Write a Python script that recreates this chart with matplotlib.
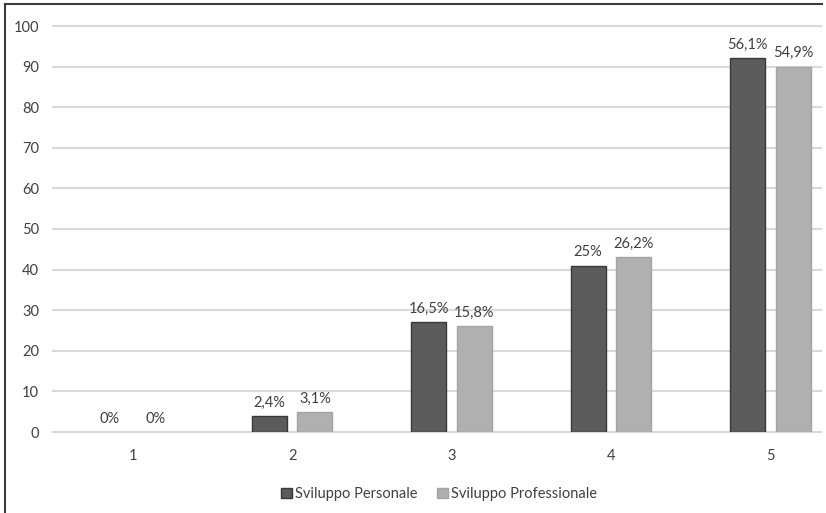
import matplotlib
matplotlib.use("Agg")
import matplotlib.pyplot as plt
from matplotlib.lines import Line2D
from matplotlib.patches import Rectangle, Patch

# Data
categories = ["1", "2", "3", "4", "5"]
personale_counts = [0, 4, 27, 41, 92]
professionale_counts = [0, 5, 26, 43, 90]
personale_pct = [0, 2.4, 16.5, 25, 56.1]
professionale_pct = [0, 3.1, 15.8, 26.2, 54.9]
yticks = [0, 10, 20, 30, 40, 50, 60, 70, 80, 90, 100]
series_names = ["Sviluppo Personale", "Sviluppo Professionale"]

plt.rcParams["font.family"] = ["Lato", "DejaVu Sans"]
FS = 10.5
TXT = "#404040"

W, H = 826, 513
fig = plt.figure(figsize=(W / 100, H / 100), dpi=100)
fig.patch.set_facecolor("white")

# plot area in pixels (extends past the right edge of the canvas)
left_px, right_px = 53, 850
y0_px, y100_px = 432, 26
ax = fig.add_axes([left_px / W, (H - y0_px) / H,
                   (right_px - left_px) / W, (y0_px - y100_px) / H])

dark = "#5b5b5b"
light = "#b0b0b0"
x = list(range(1, len(categories) + 1))
width = 0.22
off = 0.143

b1 = ax.bar([i - off for i in x], personale_counts, width, color=dark,
            edgecolor="#383838", linewidth=1.0, zorder=3)
b2 = ax.bar([i + off for i in x], professionale_counts, width, color=light,
            edgecolor="#a4a4a4", linewidth=1.0, zorder=3)

# empty categories get no outline
for bars in (b1, b2):
    for bar in bars:
        if bar.get_height() == 0:
            bar.set_linewidth(0)

def fmt(v):
    return f"{v:g}".replace(".", ",") + "%"

for bars, pcts in ((b1, personale_pct), (b2, professionale_pct)):
    for bar, p in zip(bars, pcts):
        ax.annotate(fmt(p), (bar.get_x() + bar.get_width() / 2, bar.get_height()),
                    xytext=(0, 4.5), textcoords="offset points",
                    ha="center", va="bottom", fontsize=FS, color=TXT)

ax.set_xlim(0.5, len(categories) + 0.5)
ax.set_ylim(0, 100)
ax.set_yticks(yticks)
ax.set_xticks(x)
ax.set_xticklabels(categories)
ax.tick_params(axis="both", length=0, labelsize=FS, labelcolor=TXT)
ax.tick_params(axis="y", pad=10)
ax.tick_params(axis="x", pad=12)
ax.grid(axis="y", color="#d9d9d9", linewidth=1.5, zorder=0)
for gl in ax.get_ygridlines():
    gl.set_clip_on(False)
ax.set_axisbelow(True)
for s in ax.spines.values():
    s.set_visible(False)

# gridlines stop a few pixels before the canvas edge
fig.patches.append(Rectangle((822 / W, 0), (W - 822) / W, 1, transform=fig.transFigure,
                             facecolor="white", edgecolor="none", zorder=5))

# chart frame (left and top edges)
frame_col = "#3c3c3c"
fig.lines.append(Line2D([4.5 / W, 4.5 / W], [0, 1 - 4 / H], transform=fig.transFigure,
                        color=frame_col, linewidth=1.5, zorder=6))
fig.lines.append(Line2D([4.5 / W, 822 / W], [1 - 4 / H, 1 - 4 / H], transform=fig.transFigure,
                        color=frame_col, linewidth=1.5, zorder=6))

handles = [Patch(facecolor=dark, edgecolor="#383838"),
           Patch(facecolor=light, edgecolor="#a4a4a4")]
fig.legend(handles, series_names, loc="center", bbox_to_anchor=(439 / W, 1 - 494 / H),
           ncol=2, frameon=False, fontsize=FS, handlelength=0.75, handleheight=0.75,
           handletextpad=0.2, columnspacing=1.3, labelcolor=TXT)

fig.savefig("out.png", dpi=100)
